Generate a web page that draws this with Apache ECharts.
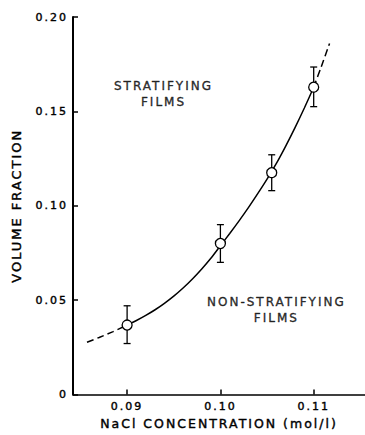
<!DOCTYPE html>
<html>
<head>
<meta charset="utf-8">
<script src="https://cdn.jsdelivr.net/npm/echarts@6/dist/echarts.min.js"></script>
<style>
  html, body { margin: 0; padding: 0; background: #fff; }
  #chart { width: 365px; height: 435px; }
  #chart text { letter-spacing: 2px; }
</style>
</head>
<body>
<div id="chart"></div>
<script>
// Measured data points with error bars
var pointX = [0.09, 0.10, 0.1055, 0.11];
var pointY = [0.0368, 0.080, 0.1175, 0.1628];
var errLow = [0.027, 0.070, 0.108, 0.1525];
var errHigh = [0.047, 0.090, 0.127, 0.1735];

// Fitted curve (solid part)
var curveX = [0.090, 0.091, 0.092, 0.093, 0.094, 0.095, 0.096, 0.097, 0.098, 0.099, 0.100,
              0.101, 0.102, 0.103, 0.104, 0.105, 0.106, 0.107, 0.108, 0.109, 0.110];
var curveY = [0.0368, 0.0392, 0.0419, 0.0449, 0.0483, 0.0521, 0.0564, 0.0612, 0.0665, 0.0723, 0.0788,
              0.0853, 0.0920, 0.0990, 0.1064, 0.1141, 0.1224, 0.1316, 0.1414, 0.1518, 0.1628];

// Extrapolated (dashed) parts of the curve
var dashLowX = [0.0857, 0.0870, 0.0885, 0.0900];
var dashLowY = [0.0277, 0.0302, 0.0333, 0.0368];
var dashHighX = [0.1100, 0.1108, 0.1117];
var dashHighY = [0.1628, 0.1735, 0.1860];

// Axis ticks
var xTicks = [0.09, 0.10, 0.11];
var xTickLabels = ['0.09', '0.10', '0.11'];
var yTickLabels = ['0', '0.05', '0.10', '0.15', '0.20'];

// Region annotations
var noteText = ['STRATIFYING\nFILMS', 'NON-STRATIFYING\nFILMS'];
var noteX = [0.0939, 0.1060];
var noteY = [0.159, 0.0448];

function zip(a, b) { return a.map(function (v, i) { return [v, b[i]]; }); }

var FONT = 'DejaVu Sans';
var INK = '#000';
var TB = { textBorderColor: '#000', textBorderWidth: 0.4 };

var chart = echarts.init(document.getElementById('chart'), null, { renderer: 'svg' });

var option = {
  animation: false,
  backgroundColor: '#fff',
  grid: { left: 73, right: 0, top: 17, bottom: 39, containLabel: false },
  xAxis: {
    type: 'value',
    min: 0.0842,
    max: 0.1155,
    name: 'NaCl CONCENTRATION (mol/l)',
    nameLocation: 'middle',
    nameGap: 22,
    nameTextStyle: Object.assign({ fontFamily: FONT, fontSize: 12.5, color: INK }, TB),
    splitLine: { show: false },
    axisLine: { show: true, onZero: false, lineStyle: { color: INK, width: 1.6 } },
    axisTick: { show: true, inside: true, length: 5, lineStyle: { color: INK, width: 1.5 }, customValues: xTicks },
    axisLabel: Object.assign({
      fontFamily: FONT, fontSize: 11, color: INK, margin: 6,
      customValues: xTicks,
      formatter: function (v) {
        var i = xTicks.findIndex(function (t) { return Math.abs(t - v) < 1e-9; });
        return i >= 0 ? xTickLabels[i] : '';
      }
    }, TB)
  },
  yAxis: {
    type: 'value',
    min: 0,
    max: 0.20,
    interval: 0.05,
    name: 'VOLUME FRACTION',
    nameLocation: 'middle',
    nameGap: 50,
    nameTextStyle: Object.assign({ fontFamily: FONT, fontSize: 13, color: INK }, TB),
    splitLine: { show: false },
    axisLine: { show: true, onZero: false, lineStyle: { color: INK, width: 2 } },
    axisTick: { show: true, inside: true, length: 5, lineStyle: { color: INK, width: 1.5 } },
    axisLabel: Object.assign({
      fontFamily: FONT, fontSize: 11, color: INK, margin: 5,
      formatter: function (v) { return yTickLabels[Math.round(v / 0.05)]; }
    }, TB)
  },
  series: [
    {
      type: 'line', data: zip(curveX, curveY), smooth: 0.25, symbol: 'none',
      lineStyle: { color: INK, width: 1.5 }, silent: true, z: 2
    },
    {
      type: 'line', data: zip(dashLowX, dashLowY), smooth: 0.25, symbol: 'none',
      lineStyle: { color: INK, width: 1.5, type: [7, 4] }, silent: true, z: 2
    },
    {
      type: 'line', data: zip(dashHighX, dashHighY), smooth: 0.25, symbol: 'none',
      lineStyle: { color: INK, width: 1.5, type: [7, 4] }, silent: true, z: 2
    },
    {
      type: 'custom',
      data: pointX.map(function (x, i) { return [x, errLow[i], errHigh[i]]; }),
      renderItem: function (params, api) {
        var lo = api.coord([api.value(0), api.value(1)]);
        var hi = api.coord([api.value(0), api.value(2)]);
        var hw = 3.5;
        var st = { stroke: INK, lineWidth: 1.3 };
        return {
          type: 'group',
          children: [
            { type: 'line', shape: { x1: lo[0], y1: lo[1], x2: hi[0], y2: hi[1] }, style: st },
            { type: 'line', shape: { x1: lo[0] - hw, y1: lo[1], x2: lo[0] + hw, y2: lo[1] }, style: st },
            { type: 'line', shape: { x1: hi[0] - hw, y1: hi[1], x2: hi[0] + hw, y2: hi[1] }, style: st }
          ]
        };
      },
      silent: true, z: 3
    },
    {
      type: 'scatter', data: zip(pointX, pointY), symbol: 'circle', symbolSize: 10,
      itemStyle: { color: '#fff', borderColor: INK, borderWidth: 1.3, opacity: 1 }, silent: true, z: 4
    },
    {
      type: 'scatter',
      data: noteText.map(function (t, i) { return { name: t, value: [noteX[i], noteY[i]] }; }),
      symbolSize: 0,
      label: Object.assign({
        show: true, position: 'inside', formatter: '{b}',
        fontFamily: FONT, fontSize: 12, color: INK, lineHeight: 16, align: 'center'
      }, TB),
      silent: true, z: 5
    }
  ]
};
chart.setOption(option);
</script>
</body>
</html>
